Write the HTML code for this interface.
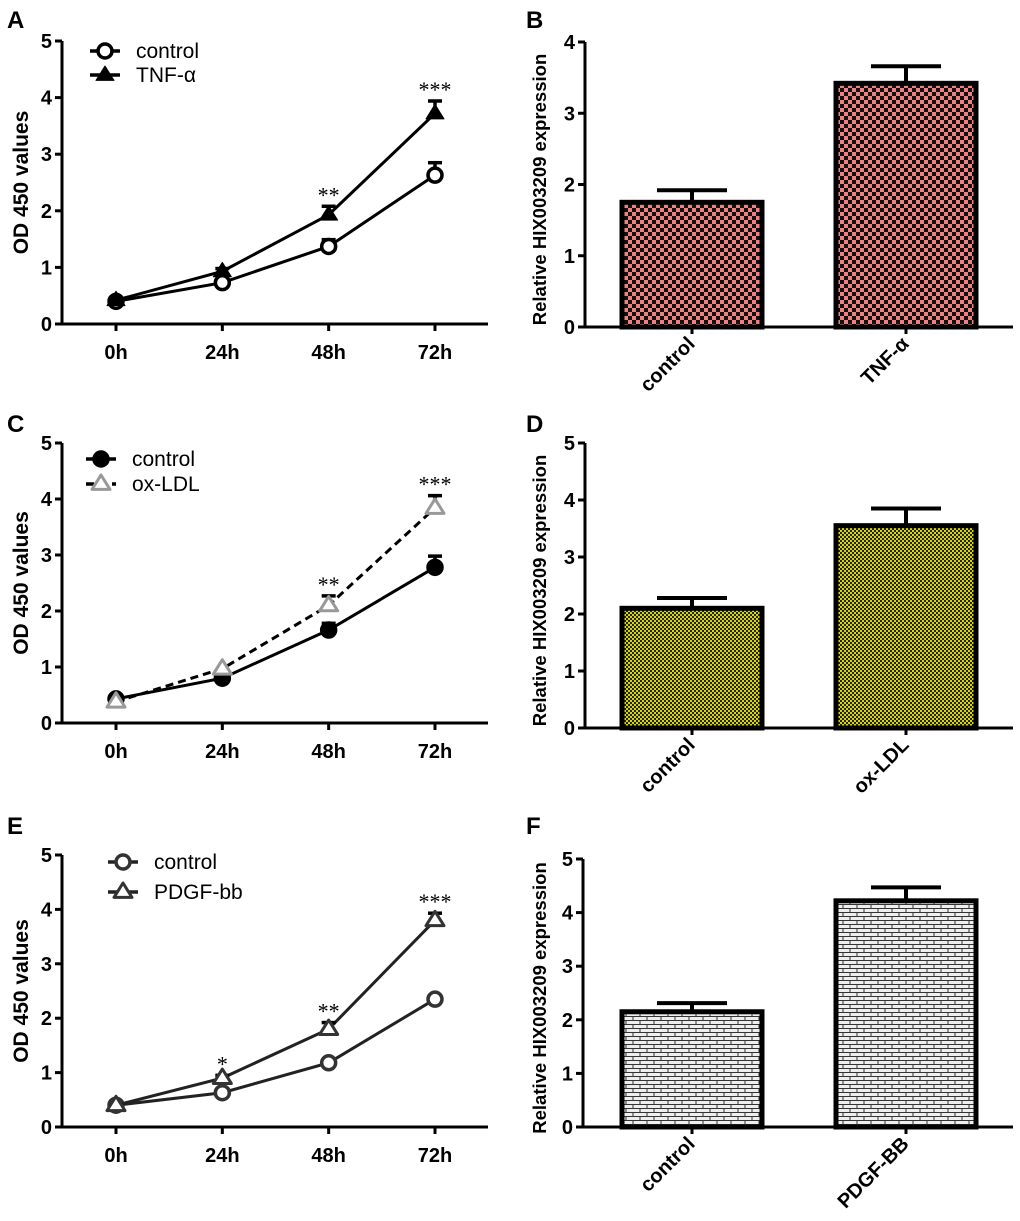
<!DOCTYPE html>
<html><head><meta charset="utf-8"><style>
body{margin:0;background:#fff}
svg{display:block;font-family:"Liberation Sans",Arial,sans-serif}
</style></head><body>
<svg id="fig" width="1020" height="1221" viewBox="0 0 1020 1221" xmlns="http://www.w3.org/2000/svg">
<defs>
<pattern id="pChk" width="8" height="8" patternUnits="userSpaceOnUse"><rect width="8" height="8" fill="#f07f7f"/><rect width="4" height="4" fill="#111"/><rect x="4" y="4" width="4" height="4" fill="#111"/></pattern>
<pattern id="pYel" width="4" height="4" patternUnits="userSpaceOnUse"><rect width="4" height="4" fill="#d8d800"/><rect width="2" height="2" fill="#222"/><rect x="2" y="2" width="2" height="2" fill="#222"/></pattern>
<pattern id="pBrick" width="14" height="8" patternUnits="userSpaceOnUse"><rect width="14" height="8" fill="#eee"/><path d="M0 0.5H14M0 4.5H14M3 0V4M10 4V8" stroke="#333" stroke-width="1"/></pattern>
</defs>
<g id="root"></g>
</svg>
<script>
// Panel A data
const timeLabels=["0h","24h","48h","72h"];
const aControl=[0.4,0.73,1.37,2.63];
const aControlErr=[0,0.05,0.12,0.22];
const aTnf=[0.42,0.93,1.93,3.72];
const aTnfErr=[0,0.05,0.15,0.22];
const aStars=["","","**","***"];
// Panel C data
const cControl=[0.43,0.8,1.66,2.78];
const cControlErr=[0,0,0.12,0.2];
const cOx=[0.38,0.97,2.1,3.84];
const cOxErr=[0,0,0.17,0.22];
const cStars=["","","**","***"];
// Panel E data
const eControl=[0.4,0.63,1.18,2.35];
const eControlErr=[0,0.02,0.03,0.05];
const ePdgf=[0.4,0.9,1.8,3.8];
const ePdgfErr=[0,0.05,0.12,0.13];
const eStars=["","*","**","***"];
// Bar data
const bCats=["control","TNF-α"];const bVals=[1.75,3.42];const bErr=[0.17,0.24];
const dCats=["control","ox-LDL"];const dVals=[2.1,3.55];const dErr=[0.18,0.3];
const fCats=["control","PDGF-BB"];const fVals=[2.15,4.22];const fErr=[0.16,0.25];
const lineTicks=[0,1,2,3,4,5];

const NS="http://www.w3.org/2000/svg";
const root=document.getElementById('root');
function mk(tag,attrs,parent,text){const e=document.createElementNS(NS,tag);for(const k in attrs)e.setAttribute(k,attrs[k]);if(text!==undefined)e.textContent=text;(parent||root).appendChild(e);return e;}

function marker(g,type,x,y,color,fill){
  if(type==='circle'){mk('circle',{cx:x,cy:y,r:7,fill:fill,stroke:color,'stroke-width':3.5},g);}
  else{const s=9;mk('polygon',{points:`${x},${y-s} ${x-s},${y+s*0.6} ${x+s},${y+s*0.6}`,fill:fill,stroke:color,'stroke-width':fill==='none'||fill==='#fff'?3:1,'stroke-linejoin':'round'},g);}
}

function linePanel(cfg){
  const g=mk('g',{});
  
  
  const ax=62,xEnd=488,y0=cfg.y0,yTop=cfg.yTop;
  const sy=v=>y0-(v/5)*(y0-yTop);
  const xs=[116,222,329,435];const sx=i=>xs[0]+i*(xs[3]-xs[0])/3;
  const yA=mk('line',{x1:ax,y1:yTop,x2:ax,y2:y0,stroke:'#000','stroke-width':3},g);
  
  const xA=mk('line',{x1:55,y1:y0,x2:xEnd,y2:y0,stroke:'#000','stroke-width':3},g);
  
  lineTicks.forEach(t=>{mk('line',{x1:ax-7,x2:ax,y1:sy(t),y2:sy(t),stroke:'#000','stroke-width':3},g);
    const tl=mk('text',{x:ax-10,y:sy(t)+7,'text-anchor':'end','font-size':20,'font-weight':'bold'},g,String(t));
    });
  timeLabels.forEach((l,i)=>{mk('line',{x1:sx(i),x2:sx(i),y1:y0,y2:y0+7,stroke:'#000','stroke-width':3},g);
    const tl=mk('text',{x:sx(i),y:y0+35,'text-anchor':'middle','font-size':20,'font-weight':'bold'},g,l);
    });
  const yt=mk('text',{transform:`translate(28,${(y0+yTop)/2}) rotate(-90)`,'text-anchor':'middle','font-size':21,'font-weight':'bold'},g,'OD 450 values');
  
  const pl=mk('text',{x:7,y:cfg.labY,'font-size':24,'font-weight':'bold'},g,cfg.letter);
  
  cfg.series.forEach((s,si)=>{
    const sg=mk('g',{},g);
    
    const pts=s.vals.map((v,i)=>sx(i)+','+sy(v)).join(' ');
    mk('polyline',{points:pts,fill:'none',stroke:s.lineColor,'stroke-width':3,'stroke-dasharray':s.dash||'none'},sg);
    s.vals.forEach((v,i)=>{
      if(s.err[i]>0){const yt2=sy(v+s.err[i]);mk('line',{x1:sx(i),x2:sx(i),y1:sy(v),y2:yt2,stroke:'#000','stroke-width':3.5},sg);mk('line',{x1:sx(i)-7,x2:sx(i)+7,y1:yt2,y2:yt2,stroke:'#000','stroke-width':3.5},sg);}
      marker(sg,s.marker,sx(i),sy(v),s.color,s.fill);
    });
    const ly=cfg.legY+si*cfg.legGap;
    const lg=mk('g',{},g);
    
    mk('line',{x1:cfg.legX,x2:cfg.legX+30,y1:ly,y2:ly,stroke:s.lineColor,'stroke-width':3.5,'stroke-dasharray':s.dash||'none'},lg);
    marker(lg,s.marker,cfg.legX+15,ly,s.color,s.fill);
    mk('text',{x:cfg.legX+46,y:ly+7,'font-size':21},lg,s.label);
  });
  cfg.stars.forEach((st,i)=>{if(!st)return;const top=Math.max(...cfg.series.map(s=>s.vals[i]+s.err[i]));
    const t=mk('text',{x:sx(i),y:sy(top)-4,'text-anchor':'middle','font-size':22,'font-family':'Liberation Serif'},g,st);
    });
}

function barPanel(cfg){
  const g=mk('g',{});
  
  const ax=cfg.ax,y0=cfg.y0,ytop=cfg.yTop,ymax=cfg.ymax;
  const sy=v=>y0-(v/ymax)*(y0-ytop);
  const cx=[692,906];
  const yA=mk('line',{x1:ax,y1:ytop,x2:ax,y2:y0,stroke:'#000','stroke-width':3},g);
  
  const xA=mk('line',{x1:ax-7,y1:y0,x2:1013,y2:y0,stroke:'#000','stroke-width':3},g);
  
  for(let t=0;t<=ymax;t++){mk('line',{x1:ax-7,x2:ax,y1:sy(t),y2:sy(t),stroke:'#000','stroke-width':3},g);
    const tl=mk('text',{x:ax-10,y:sy(t)+7,'text-anchor':'end','font-size':20,'font-weight':'bold'},g,String(t));
    }
  const yt=mk('text',{transform:`translate(546,${(y0+ytop)/2+5}) rotate(-90)`,'text-anchor':'middle','font-size':18.5,'font-weight':'bold'},g,'Relative HIX003209 expression');
  
  const pl=mk('text',{x:526,y:cfg.labY,'font-size':24,'font-weight':'bold'},g,cfg.letter);
  
  cfg.vals.forEach((v,i)=>{
    const b=mk('rect',{x:cx[i]-70,y:sy(v),width:140,height:y0-sy(v),fill:cfg.fill,stroke:'#000','stroke-width':5},g);
    
    const et=sy(v+cfg.err[i]);
    mk('line',{x1:cx[i],x2:cx[i],y1:sy(v),y2:et,stroke:'#000','stroke-width':4},g);
    mk('line',{x1:cx[i]-35,x2:cx[i]+35,y1:et,y2:et,stroke:'#000','stroke-width':4},g);
    mk('line',{x1:cx[i],x2:cx[i],y1:y0,y2:y0+7,stroke:'#000','stroke-width':3},g);
    const tl=mk('text',{transform:`translate(${cx[i]+4},${y0+18}) rotate(-45)`,'text-anchor':'end','font-size':20,'font-weight':'bold'},g,cfg.cats[i]);
    
  });
}

linePanel({name:'panel-a-line-chart',letter:'A',labY:28,y0:324,yTop:41,legX:90,legY:51,legGap:24,stars:aStars,series:[
 {key:'control',label:'control',vals:aControl,err:aControlErr,marker:'circle',color:'#000',fill:'#fff',lineColor:'#000'},
 {key:'tnf',label:'TNF-α',vals:aTnf,err:aTnfErr,marker:'tri',color:'#000',fill:'#000',lineColor:'#000'}]});
linePanel({name:'panel-c-line-chart',letter:'C',labY:432,y0:723,yTop:443,legX:86,legY:459,legGap:25,stars:cStars,series:[
 {key:'control',label:'control',vals:cControl,err:cControlErr,marker:'circle',color:'#000',fill:'#000',lineColor:'#000'},
 {key:'ox-ldl',label:'ox-LDL',vals:cOx,err:cOxErr,marker:'tri',color:'#999',fill:'#fff',lineColor:'#000',dash:'8,5'}]});
linePanel({name:'panel-e-line-chart',letter:'E',labY:834,y0:1127,yTop:855,legX:108,legY:862,legGap:30,stars:eStars,series:[
 {key:'control',label:'control',vals:eControl,err:eControlErr,marker:'circle',color:'#333',fill:'#fff',lineColor:'#222'},
 {key:'pdgf',label:'PDGF-bb',vals:ePdgf,err:ePdgfErr,marker:'tri',color:'#333',fill:'#fff',lineColor:'#222'}]});
barPanel({name:'panel-b-bar-chart',letter:'B',labY:28,ax:585,y0:327,yTop:42,ymax:4,cats:bCats,vals:bVals,err:bErr,fill:'url(#pChk)'});
barPanel({name:'panel-d-bar-chart',letter:'D',labY:432,ax:585,y0:728,yTop:443,ymax:5,cats:dCats,vals:dVals,err:dErr,fill:'url(#pYel)'});
barPanel({name:'panel-f-bar-chart',letter:'F',labY:834,ax:583,y0:1127,yTop:859,ymax:5,cats:fCats,vals:fVals,err:fErr,fill:'url(#pBrick)'});
</script>
</body></html>
